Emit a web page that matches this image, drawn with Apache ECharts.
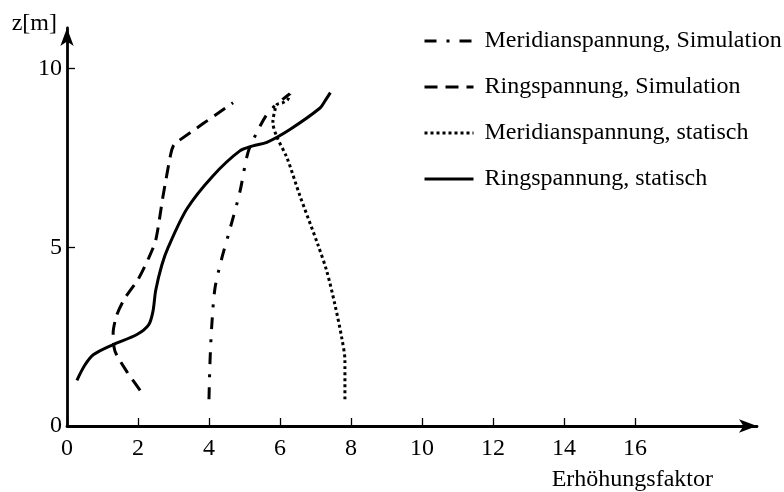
<!DOCTYPE html>
<html>
<head>
<meta charset="utf-8">
<script src="https://cdn.jsdelivr.net/npm/echarts@6/dist/echarts.min.js"></script>
<style>
  html, body { margin: 0; padding: 0; background: #fff; }
  #chart { width: 784px; height: 492px; }
</style>
</head>
<body>
<div id="chart"></div>
<script>
  // [Erhöhungsfaktor, z in m]
  const meridianSimulation = [
    [4.0, 0.75], [4.03, 1.83], [4.08, 2.83], [4.17, 3.86], [4.36, 4.69], [4.56, 5.4],
    [4.87, 6.55], [5.1, 7.66], [5.35, 8.22], [5.63, 8.72], [5.9, 9.0], [6.28, 9.3]
  ]
  const ringSimulation = [
    [2.06, 1.0], [1.7, 1.5], [1.35, 2.1], [1.3, 2.6], [1.4, 3.1], [1.63, 3.58],
    [2.0, 4.1], [2.3, 4.7], [2.5, 5.2], [2.7, 6.4], [2.92, 7.6], [3.0, 7.85],
    [3.1, 7.95], [4.68, 9.05]
  ]
  const meridianStatisch = [
    [7.83, 0.75], [7.83, 1.83], [7.74, 2.47], [7.55, 3.39], [7.32, 4.33], [7.06, 5.1],
    [6.56, 6.45], [6.2, 7.5], [5.91, 8.1], [5.8, 8.5], [5.86, 8.85], [5.92, 9.0],
    [6.08, 9.05], [6.22, 9.14], [6.28, 9.3]
  ]
  const ringStatisch = [
    [0.28, 1.28], [0.5, 1.7], [0.75, 2.0], [1.3, 2.28], [1.97, 2.56], [2.3, 2.83],
    [2.42, 3.2], [2.5, 3.8], [2.67, 4.5], [2.85, 5.0], [3.38, 6.08], [4.11, 7.0],
    [4.87, 7.7], [5.24, 7.84], [5.63, 7.94], [6.28, 8.3], [7.13, 8.9], [7.27, 9.1],
    [7.42, 9.33]
  ]
  const seriesNames = [
    'Meridianspannung, Simulation',
    'Ringspannung, Simulation',
    'Meridianspannung, statisch',
    'Ringspannung, statisch'
  ]
  const xTicks = [0, 2, 4, 6, 8, 10, 12, 14, 16]
  const yTicks = [0, 5, 10]

  const font = 'Liberation Serif'
  const myChart = echarts.init(document.getElementById('chart'), null, { renderer: 'canvas' })

  function lineSeries(name, data, type, smooth) {
    return {
      name: name,
      type: 'line',
      data: data,
      showSymbol: false,
      symbol: 'none',
      smooth: smooth,
      lineStyle: { color: '#000', width: 3, type: type, cap: 'butt' },
      itemStyle: { color: '#000' }
    }
  }

  myChart.setOption({
    animation: false,
    backgroundColor: '#fff',
    textStyle: { fontFamily: font, color: '#000' },
    legend: {
      orient: 'vertical',
      left: 423,
      top: 29,
      padding: 0,
      itemWidth: 49,
      itemHeight: 20,
      itemGap: 22,
      data: seriesNames,
      itemStyle: { color: 'rgba(0,0,0,0)', borderWidth: 0, opacity: 0 },
      lineStyle: { width: 3 },
      textStyle: { fontFamily: font, fontSize: 24, color: '#000', padding: [0, 0, 0, 6] }
    },
    grid: { left: 67, right: 27, top: 28, bottom: 63 },
    xAxis: {
      type: 'value',
      min: 0,
      max: 19.44,
      interval: 2,
      splitLine: { show: false },
      axisLine: {
        onZero: false,
        lineStyle: { color: '#000', width: 2.8 },
        symbol: ['none', 'arrow'],
        symbolSize: [10, 18]
      },
      axisTick: { inside: true, length: 8, customValues: xTicks, lineStyle: { color: '#000', width: 1.3 } },
      axisLabel: { customValues: xTicks, margin: 11, fontSize: 24, fontFamily: font, color: '#000' },
      name: 'Erhöhungsfaktor',
      nameLocation: 'end',
      nameGap: -44,
      nameTextStyle: { fontFamily: font, fontSize: 24, color: '#000', align: 'right', verticalAlign: 'top', padding: [42, 0, 0, 0] }
    },
    yAxis: {
      type: 'value',
      min: 0,
      max: 11.14,
      interval: 5,
      splitLine: { show: false },
      axisLine: {
        onZero: false,
        lineStyle: { color: '#000', width: 2.8 },
        symbol: ['none', 'arrow'],
        symbolSize: [10, 18]
      },
      axisTick: { inside: true, length: 8, customValues: yTicks, lineStyle: { color: '#000', width: 1.3 } },
      axisLabel: { customValues: yTicks, margin: 5, fontSize: 24, fontFamily: font, color: '#000' },
      name: 'z[m]',
      nameLocation: 'end',
      nameGap: -8,
      nameTextStyle: { fontFamily: font, fontSize: 24, color: '#000', align: 'right', padding: [0, 10, 0, 0] }
    },
    series: [
      lineSeries(seriesNames[0], meridianSimulation, [12, 10, 3, 10], 0.3),
      lineSeries(seriesNames[1], ringSimulation, [13, 8], 0.25),
      lineSeries(seriesNames[2], meridianStatisch, [3, 3], 0.3),
      lineSeries(seriesNames[3], ringStatisch, 'solid', 0.3)
    ]
  })
</script>
</body>
</html>
